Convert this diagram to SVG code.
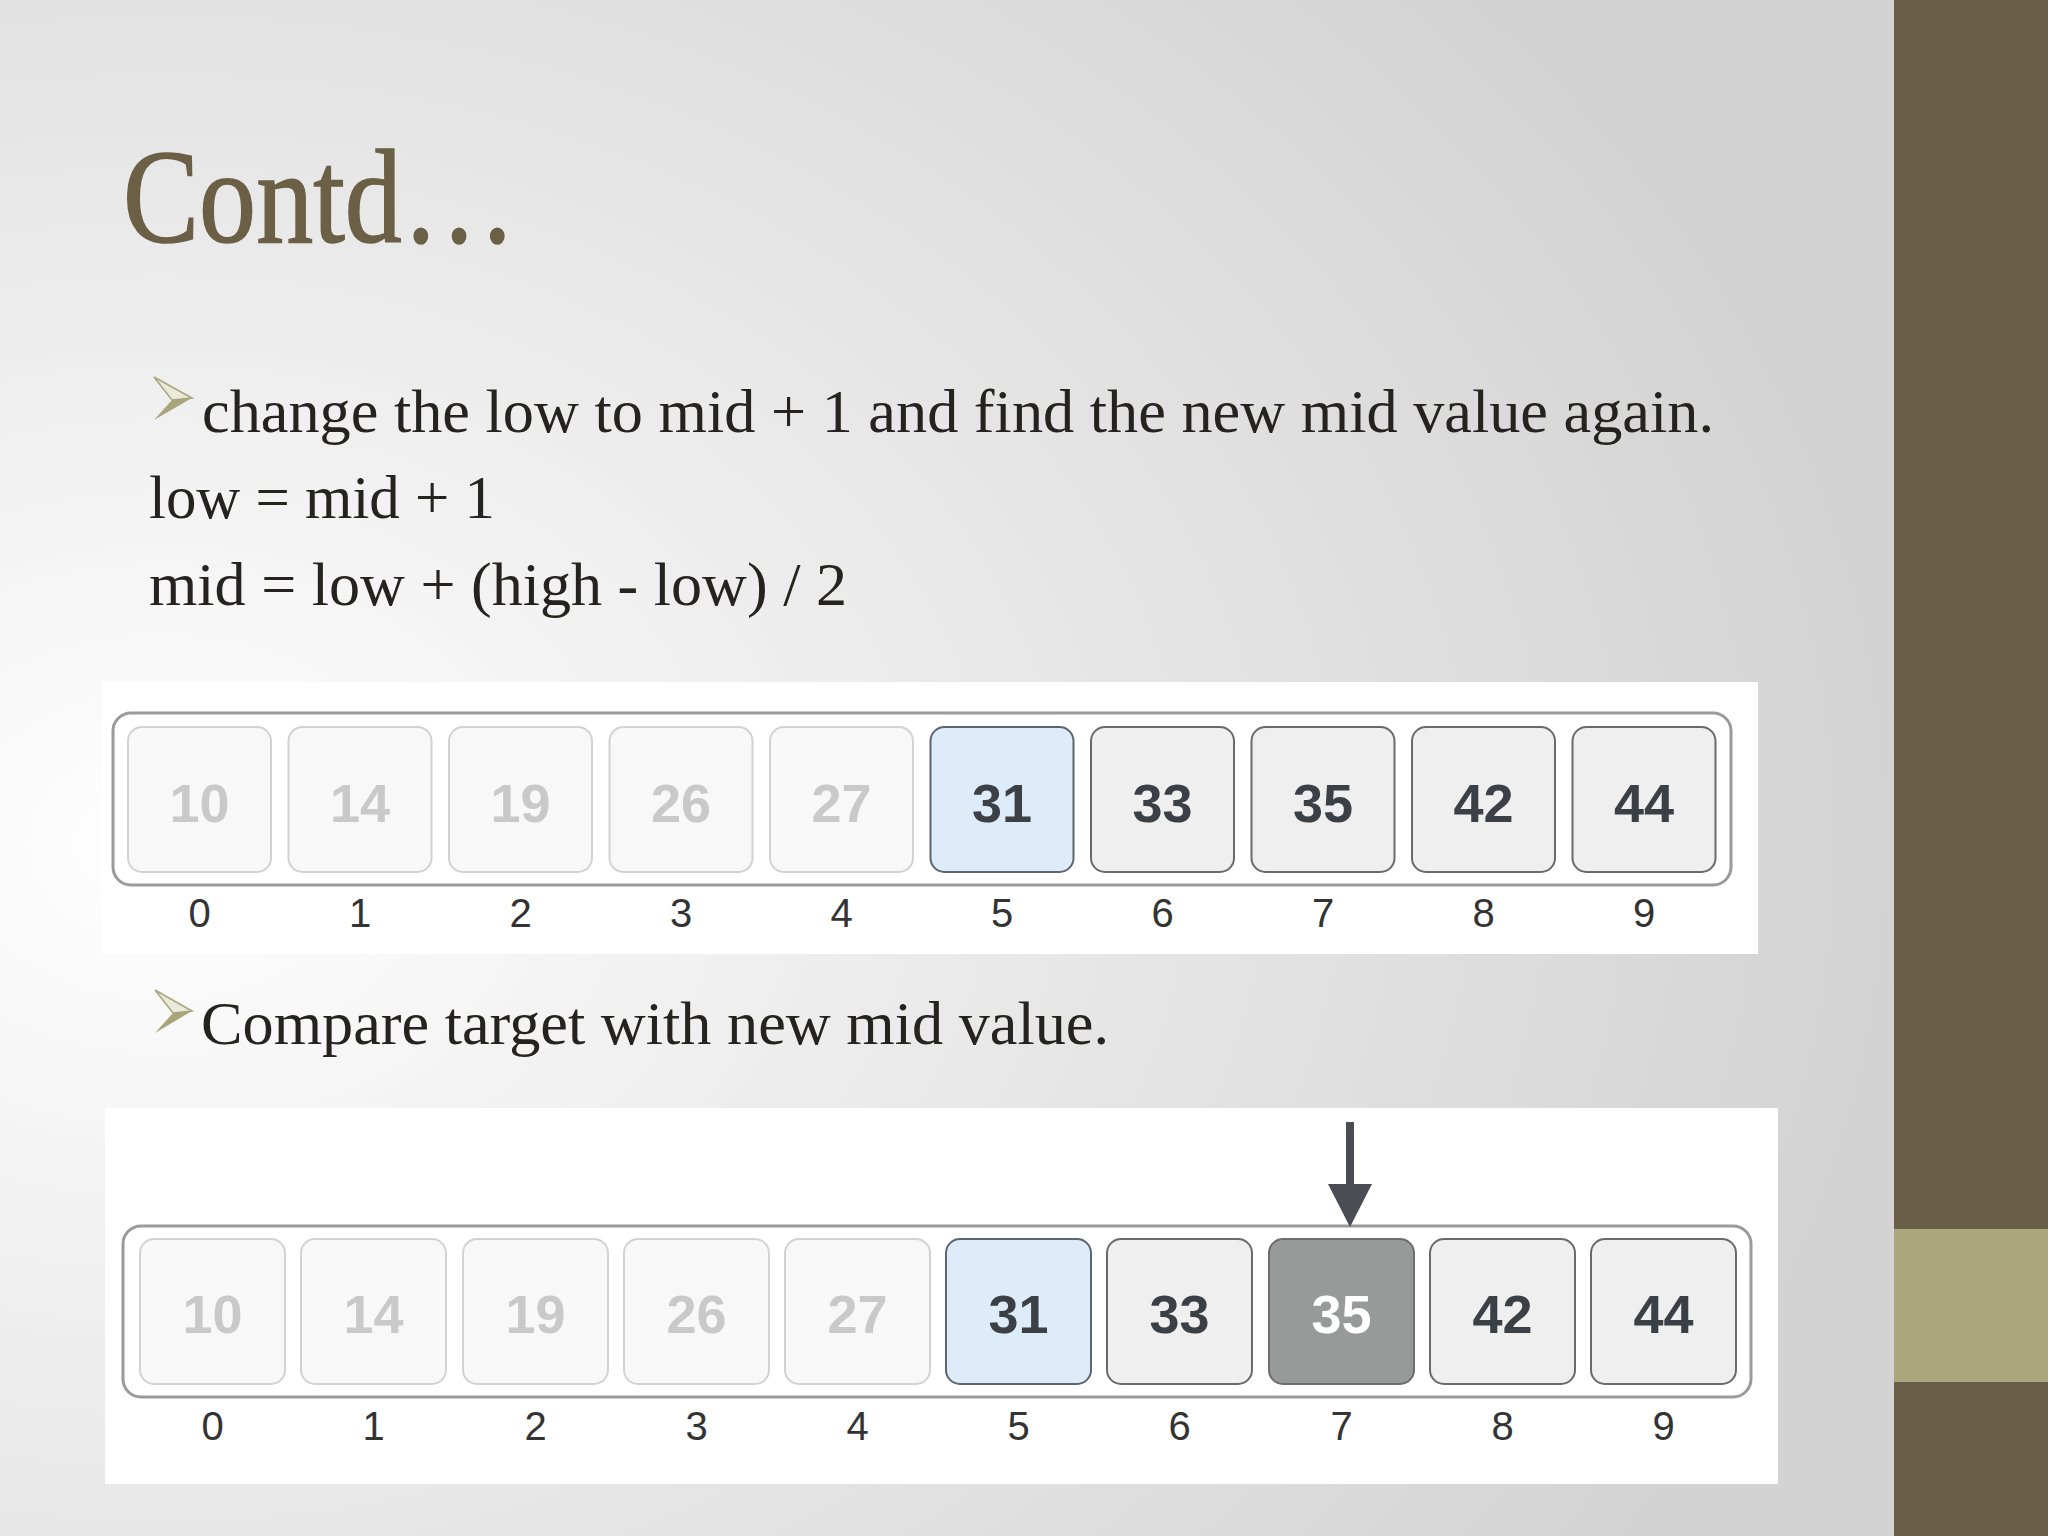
<svg xmlns="http://www.w3.org/2000/svg" width="2048" height="1536" viewBox="0 0 2048 1536">
<defs>
<radialGradient id="bg" cx="0.08" cy="0.55" r="0.85">
<stop offset="0" stop-color="#ffffff"/>
<stop offset="0.55" stop-color="#e6e6e6"/>
<stop offset="1" stop-color="#d3d3d3"/>
</radialGradient>
<style>
.title{font-family:"Liberation Serif","Times New Roman",serif;font-size:134px;fill:#6b5f45;stroke:#6b5f45;stroke-width:1.5}
.body{font-family:"Liberation Serif","Times New Roman",serif;font-size:61px;fill:#25231f}
.panel{fill:#ffffff}
.outer{fill:none;stroke:#9a9a9a;stroke-width:3}
.faded{fill:#f8f8f8;stroke:#d2d2d2;stroke-width:2}
.plain{fill:#efefef;stroke:#6a6a6a;stroke-width:2}
.mid{fill:#deebf8;stroke:#5c6570;stroke-width:2}
.hit{fill:#989999;stroke:#6e6e6e;stroke-width:2}
.num{font-family:"Liberation Sans",Arial,sans-serif;font-size:54px;font-weight:bold;text-anchor:middle}
.nf{fill:#c9c9c9}
.nd{fill:#3b3f46}
.nw{fill:#ffffff}
.idx{font-family:"Liberation Sans",Arial,sans-serif;font-size:40px;fill:#333333;text-anchor:middle}
.bl{fill:#a9a57a}
.bt{fill:#ebe9dc;stroke:#a9a57a;stroke-width:1.5}
</style>
</defs>
<rect x="0" y="0" width="2048" height="1536" fill="url(#bg)"/>
<g id="sidebar">
<rect x="1894" y="0" width="154" height="1536" fill="#695e47"/>
<rect x="1894" y="1229" width="154" height="153" fill="#aaa77c"/>
</g>
<g id="title"><text class="title" x="123" y="242" textLength="393" lengthAdjust="spacingAndGlyphs">Contd…</text></g>
<g id="bullet1">
<polygon class="bt" points="154,377 192,398 172,400"/>
<polygon class="bl" points="172,400 192,398 154,420"/>
<text class="body" x="202" y="432" textLength="1512" lengthAdjust="spacingAndGlyphs">change the low to mid + 1 and find the new mid value again.</text>
</g>
<g id="line-low"><text class="body" x="149" y="518" textLength="346" lengthAdjust="spacingAndGlyphs">low = mid + 1</text></g>
<g id="line-mid"><text class="body" x="149" y="605" textLength="698" lengthAdjust="spacingAndGlyphs">mid = low + (high - low) / 2</text></g>
<g id="array1">
<rect class="panel" x="102" y="682" width="1656" height="272"/>
<rect class="outer" x="113" y="713" width="1618" height="172" rx="18"/>
<g id="a1c0"><rect class="faded" x="128" y="727" width="143" height="145" rx="14"/><text class="num nf" x="199.5" y="822">10</text><text class="idx" x="199.5" y="927">0</text></g>
<g id="a1c1"><rect class="faded" x="288.5" y="727" width="143" height="145" rx="14"/><text class="num nf" x="360" y="822">14</text><text class="idx" x="360" y="927">1</text></g>
<g id="a1c2"><rect class="faded" x="449" y="727" width="143" height="145" rx="14"/><text class="num nf" x="520.5" y="822">19</text><text class="idx" x="520.5" y="927">2</text></g>
<g id="a1c3"><rect class="faded" x="609.5" y="727" width="143" height="145" rx="14"/><text class="num nf" x="681" y="822">26</text><text class="idx" x="681" y="927">3</text></g>
<g id="a1c4"><rect class="faded" x="770" y="727" width="143" height="145" rx="14"/><text class="num nf" x="841.5" y="822">27</text><text class="idx" x="841.5" y="927">4</text></g>
<g id="a1c5"><rect class="mid" x="930.5" y="727" width="143" height="145" rx="14"/><text class="num nd" x="1002" y="822">31</text><text class="idx" x="1002" y="927">5</text></g>
<g id="a1c6"><rect class="plain" x="1091" y="727" width="143" height="145" rx="14"/><text class="num nd" x="1162.5" y="822">33</text><text class="idx" x="1162.5" y="927">6</text></g>
<g id="a1c7"><rect class="plain" x="1251.5" y="727" width="143" height="145" rx="14"/><text class="num nd" x="1323" y="822">35</text><text class="idx" x="1323" y="927">7</text></g>
<g id="a1c8"><rect class="plain" x="1412" y="727" width="143" height="145" rx="14"/><text class="num nd" x="1483.5" y="822">42</text><text class="idx" x="1483.5" y="927">8</text></g>
<g id="a1c9"><rect class="plain" x="1572.5" y="727" width="143" height="145" rx="14"/><text class="num nd" x="1644" y="822">44</text><text class="idx" x="1644" y="927">9</text></g>
</g>
<g id="bullet2">
<polygon class="bt" points="155,990 192,1011 173,1013"/>
<polygon class="bl" points="173,1013 192,1011 155,1033"/>
<text class="body" x="201" y="1044" textLength="908" lengthAdjust="spacingAndGlyphs">Compare target with new mid value.</text>
</g>
<g id="array2">
<rect class="panel" x="105" y="1108" width="1673" height="376"/>
<rect class="outer" x="123" y="1226" width="1628" height="171" rx="18"/>
<g id="a2c0"><rect class="faded" x="140" y="1239" width="145" height="145" rx="14"/><text class="num nf" x="212.5" y="1333">10</text><text class="idx" x="212.5" y="1440">0</text></g>
<g id="a2c1"><rect class="faded" x="301" y="1239" width="145" height="145" rx="14"/><text class="num nf" x="373.5" y="1333">14</text><text class="idx" x="373.5" y="1440">1</text></g>
<g id="a2c2"><rect class="faded" x="463" y="1239" width="145" height="145" rx="14"/><text class="num nf" x="535.5" y="1333">19</text><text class="idx" x="535.5" y="1440">2</text></g>
<g id="a2c3"><rect class="faded" x="624" y="1239" width="145" height="145" rx="14"/><text class="num nf" x="696.5" y="1333">26</text><text class="idx" x="696.5" y="1440">3</text></g>
<g id="a2c4"><rect class="faded" x="785" y="1239" width="145" height="145" rx="14"/><text class="num nf" x="857.5" y="1333">27</text><text class="idx" x="857.5" y="1440">4</text></g>
<g id="a2c5"><rect class="mid" x="946" y="1239" width="145" height="145" rx="14"/><text class="num nd" x="1018.5" y="1333">31</text><text class="idx" x="1018.5" y="1440">5</text></g>
<g id="a2c6"><rect class="plain" x="1107" y="1239" width="145" height="145" rx="14"/><text class="num nd" x="1179.5" y="1333">33</text><text class="idx" x="1179.5" y="1440">6</text></g>
<g id="a2c7"><rect class="hit" x="1269" y="1239" width="145" height="145" rx="14"/><text class="num nw" x="1341.5" y="1333">35</text><text class="idx" x="1341.5" y="1440">7</text></g>
<g id="a2c8"><rect class="plain" x="1430" y="1239" width="145" height="145" rx="14"/><text class="num nd" x="1502.5" y="1333">42</text><text class="idx" x="1502.5" y="1440">8</text></g>
<g id="a2c9"><rect class="plain" x="1591" y="1239" width="145" height="145" rx="14"/><text class="num nd" x="1663.5" y="1333">44</text><text class="idx" x="1663.5" y="1440">9</text></g>
</g>
<g id="connectors">
<line x1="1350" y1="1122" x2="1350" y2="1188" stroke="#4a4e54" stroke-width="8"/>
<polygon points="1328,1184 1372,1184 1350,1227" fill="#4a4e54"/>
</g>
</svg>
